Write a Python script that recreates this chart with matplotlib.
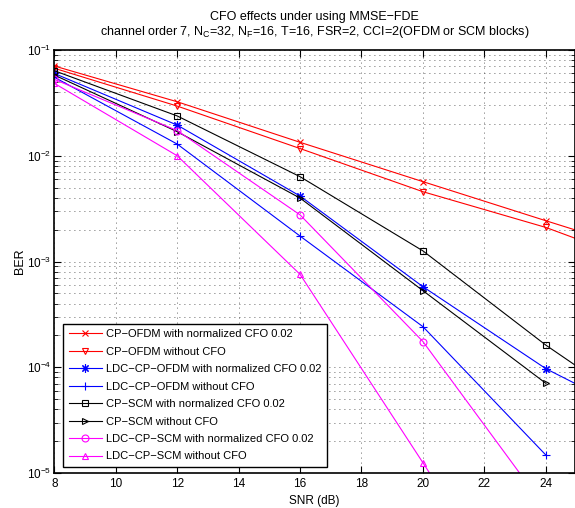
import numpy as np
import matplotlib
matplotlib.use('Agg')
import matplotlib.pyplot as plt
from matplotlib.ticker import LogLocator, NullFormatter, FixedLocator

plt.rcParams['font.family'] = ['Liberation Sans', 'DejaVu Sans']
plt.rcParams['mathtext.fontset'] = 'custom'
plt.rcParams['mathtext.rm'] = 'Liberation Sans'
plt.rcParams['mathtext.it'] = 'Liberation Sans'

# SNR points (dB)
snr = [8, 12, 16, 20, 24, 28]

# BER values
cp_ofdm_cfo = [0.0706, 0.0324, 0.0134, 0.00569, 0.00243, 0.00105]
cp_ofdm = [0.0672, 0.0295, 0.0117, 0.00457, 0.0021, 0.00078]
ldc_cp_ofdm_cfo = [0.060, 0.0195, 0.00416, 0.000578, 9.7e-5, 2.5e-5]
ldc_cp_ofdm = [0.0553, 0.0129, 0.00174, 0.000242, 1.48e-5]
cp_scm_cfo = [0.0637, 0.0238, 0.00634, 0.00126, 0.000162, 2.6e-5]
cp_scm = [0.058, 0.0169, 0.00398, 0.00053, 7.05e-5]
ldc_cp_scm_cfo = [0.0528, 0.0173, 0.00276, 0.000175, 4.6e-6]
ldc_cp_scm = [0.0484, 0.0100, 0.000756, 1.25e-5, 2e-7]

labels = [
    'CP\u2212OFDM with normalized CFO 0.02',
    'CP\u2212OFDM without CFO',
    'LDC\u2212CP\u2212OFDM with normalized CFO 0.02',
    'LDC\u2212CP\u2212OFDM without CFO',
    'CP\u2212SCM with normalized CFO 0.02',
    'CP\u2212SCM without CFO',
    'LDC\u2212CP\u2212SCM with normalized CFO 0.02',
    'LDC\u2212CP\u2212SCM without CFO',
]

series = [cp_ofdm_cfo, cp_ofdm, ldc_cp_ofdm_cfo, ldc_cp_ofdm,
          cp_scm_cfo, cp_scm, ldc_cp_scm_cfo, ldc_cp_scm]
colors = ['red', 'red', 'blue', 'blue', 'black', 'black', 'magenta', 'magenta']
markers = ['x', 'v', (8, 2, 0), '+', 's', '>', 'o', '^']
msizes = [5, 5, 6, 6, 5, 5, 5, 5]

fig = plt.figure(figsize=(5.75, 5.08), dpi=100)
ax = fig.add_axes([54.3 / 575, 1 - 473 / 508, 1 - 54.3 / 575, (473 - 50) / 508])

for y, c, m, ms, lab in zip(series, colors, markers, msizes, labels):
    ax.plot(snr[:len(y)], y, color=c, marker=m, markersize=ms,
            markerfacecolor='none', markeredgecolor=c, markeredgewidth=0.8,
            linewidth=0.8, label=lab)

ax.set_yscale('log')
ax.set_xlim(8, 24.95)
ax.set_ylim(1e-5, 1e-1)
ax.xaxis.set_major_locator(FixedLocator([8, 10, 12, 14, 16, 18, 20, 22, 24]))
ax.yaxis.set_major_locator(LogLocator(base=10, numticks=10))
ax.yaxis.set_minor_locator(LogLocator(base=10, subs=np.arange(2, 10), numticks=10))
ax.yaxis.set_minor_formatter(NullFormatter())

ax.tick_params(which='both', direction='in', top=True, right=True, labelsize=8.5)
ax.tick_params(which='major', length=5, width=0.8)
ax.tick_params(which='minor', length=3, width=0.6)
ax.tick_params(axis='y', which='major', pad=2)
ax.grid(True, which='major', linestyle=(0, (1, 5)), color='#333333', linewidth=0.6)
ax.grid(True, which='minor', axis='y', linestyle=(0, (1, 5)), color='#333333', linewidth=0.6)
for s in ax.spines.values():
    s.set_linewidth(1.2)

ax.set_xlabel('SNR (dB)', fontsize=8.5, labelpad=4)
ax.set_ylabel('BER', fontsize=9, labelpad=1)
ax.set_title('CFO effects under using MMSE\u2212FDE\n'
             'channel order 7, N$_\\mathregular{C}$=32, N$_\\mathregular{F}$=16, T=16, FSR=2, '
             'CCI=2(OFDM or SCM blocks)', fontsize=9, pad=11, linespacing=1.05)

leg = ax.legend(loc='lower left', bbox_to_anchor=(0.0167, 0.0142), borderaxespad=0,
                fontsize=8, frameon=True, fancybox=False, framealpha=1,
                edgecolor='black', handlelength=3.0, handletextpad=0.4,
                labelspacing=0.67, borderpad=0.5)
leg.get_frame().set_linewidth(1.0)

fig.savefig('out.png', dpi=100)
